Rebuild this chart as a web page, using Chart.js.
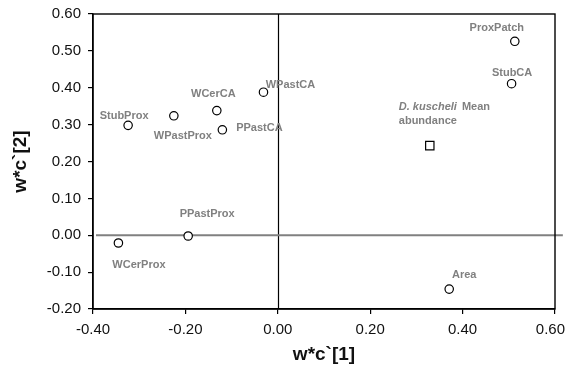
<!DOCTYPE html>
<html>
<head>
<meta charset="utf-8">
<script src="https://cdn.jsdelivr.net/npm/chart.js@4.4.1/dist/chart.umd.min.js"></script>
<style>
  html, body { margin: 0; padding: 0; background: #fff; }
  #wrap { width: 566px; height: 369px; }
</style>
</head>
<body>
<div id="wrap"><canvas id="c" width="566" height="369"></canvas></div>
<script>
// ---- data ----
const siteNames = ["StubProx", "WPastProx", "WCerCA", "PPastCA", "WPastCA", "ProxPatch", "StubCA", "WCerProx", "PPastProx", "Area"];
const siteX = [-0.324, -0.225, -0.132, -0.120, -0.031, 0.513, 0.506, -0.345, -0.194, 0.371];
const siteY = [0.298, 0.324, 0.338, 0.286, 0.388, 0.526, 0.411, -0.021, -0.002, -0.146];
const speciesX = [0.329];
const speciesY = [0.243];
const speciesItalic = "D. kuscheli";
const speciesRest = " Mean";
const speciesLine2 = "abundance";
const xTicks = [-0.40, -0.20, 0.00, 0.20, 0.40, 0.60];
const yTicks = [-0.20, -0.10, 0.00, 0.10, 0.20, 0.30, 0.40, 0.50, 0.60];
const zeroLineX = [-0.3935, 0.617];
const xTitle = "w*c`[1]";
const yTitle = "w*c`[2]";

// ---- layout of labels (pixel offsets from point) ----
const labelOffsets = [[-4, -9], [9, 20.5], [-3.5, -17], [37, -1.7], [27, -7.5], [-18, -13.5], [0.5, -11], [20.5, 21.5], [19, -22.5], [15, -14.5]];
const speciesLabelOffset = [-31, -38.5, -25];

const siteData = siteX.map((x, i) => ({ x: x, y: siteY[i] }));
const speciesData = speciesX.map((x, i) => ({ x: x, y: speciesY[i] }));
const zeroData = zeroLineX.map(x => ({ x: x, y: 0 }));

const tickFontSpec = '15px "Liberation Sans", Arial, sans-serif';
const labelFont = 'bold 11px "Liberation Sans", Arial, sans-serif';
const labelColor = '#808080';
const lastXTick = xTicks[xTicks.length - 1];

const overlay = {
  id: 'overlay',
  beforeDatasetsDraw(chart) {
    const { ctx, chartArea: a, scales: { x, y } } = chart;
    ctx.save();
    const x0 = Math.round(x.getPixelForValue(0)) + 0.5;
    ctx.strokeStyle = '#000';
    ctx.lineWidth = 1.2;
    ctx.beginPath();
    ctx.moveTo(x0, a.top);
    ctx.lineTo(x0, a.bottom);
    ctx.stroke();
    ctx.restore();
  },
  afterDatasetsDraw(chart) {
    const { ctx, chartArea: a, scales: { x, y } } = chart;
    ctx.save();
    ctx.strokeStyle = '#000';
    ctx.lineWidth = 1.4;
    ctx.strokeRect(a.left, a.top, a.right - a.left, a.bottom - a.top);
    ctx.font = labelFont;
    ctx.fillStyle = labelColor;
    ctx.textAlign = 'center';
    ctx.textBaseline = 'middle';
    siteNames.forEach((n, i) => {
      const px = x.getPixelForValue(siteX[i]);
      const py = y.getPixelForValue(siteY[i]);
      ctx.fillText(n, px + labelOffsets[i][0], py + labelOffsets[i][1]);
    });
    const sx = x.getPixelForValue(speciesX[0]);
    const sy = y.getPixelForValue(speciesY[0]);
    ctx.textAlign = 'left';
    const lx = sx + speciesLabelOffset[0];
    ctx.font = 'italic bold 11px "Liberation Sans", Arial, sans-serif';
    ctx.fillText(speciesItalic, lx, sy + speciesLabelOffset[1]);
    const w = ctx.measureText(speciesItalic).width;
    ctx.font = labelFont;
    ctx.fillText(speciesRest, lx + w + 2, sy + speciesLabelOffset[1]);
    ctx.fillText(speciesLine2, lx, sy + speciesLabelOffset[2]);
    // last x tick label, kept inside the canvas like the reference
    ctx.font = tickFontSpec;
    ctx.fillStyle = '#111';
    ctx.textAlign = 'right';
    ctx.textBaseline = 'middle';
    const lp = x.getPixelForValue(lastXTick);
    ctx.fillText(lastXTick.toFixed(2), Math.min(lp + 15, chart.width - 1), a.bottom + 21);
    ctx.restore();
  }
};

new Chart(document.getElementById('c'), {
  type: 'scatter',
  data: {
    datasets: [
      {
        type: 'line',
        data: zeroData,
        borderColor: '#808080',
        borderWidth: 2,
        pointRadius: 0,
        clip: false,
        order: 3
      },
      {
        data: siteData,
        pointStyle: 'circle',
        pointRadius: 4.2,
        pointBorderWidth: 1.2,
        pointBorderColor: '#000',
        pointBackgroundColor: '#fff',
        order: 1
      },
      {
        data: speciesData,
        pointStyle: 'rect',
        pointRadius: 5.9,
        pointBorderWidth: 1.2,
        pointBorderColor: '#000',
        pointBackgroundColor: '#fff',
        order: 1
      }
    ]
  },
  options: {
    responsive: false,
    animation: false,
    devicePixelRatio: 1,
    layout: { padding: { left: 0, right: 11, top: 14, bottom: 0 } },
    plugins: { legend: { display: false }, tooltip: { enabled: false } },
    scales: {
      x: {
        type: 'linear',
        min: -0.4, max: 0.6,
        afterBuildTicks(s) { s.ticks = xTicks.map(v => ({ value: v })); },
        afterFit(s) { s.height = 60; s.paddingLeft = 0; s.paddingRight = 0; },
        grid: { drawOnChartArea: false, drawTicks: true, tickLength: 5, color: '#000', lineWidth: 1.2 },
        border: { display: true, color: '#000', width: 1.4 },
        ticks: {
          padding: 7,
          color: '#111',
          font: { family: '"Liberation Sans", Arial, sans-serif', size: 15 },
          callback: v => (v === lastXTick ? '' : v.toFixed(2))
        },
        title: {
          display: true, text: xTitle, color: '#111',
          font: { family: '"Liberation Sans", Arial, sans-serif', size: 19, weight: 'bold' },
          padding: { top: 0, bottom: 2.5 }
        }
      },
      y: {
        type: 'linear',
        min: -0.2, max: 0.6,
        afterBuildTicks(s) { s.ticks = yTicks.map(v => ({ value: v })); },
        afterFit(s) { s.width = 93; s.paddingTop = 0; s.paddingBottom = 0; },
        grid: { drawOnChartArea: false, drawTicks: true, tickLength: 5, color: '#000', lineWidth: 1.2 },
        border: { display: true, color: '#000', width: 1.4 },
        ticks: {
          padding: 7,
          color: '#111',
          font: { family: '"Liberation Sans", Arial, sans-serif', size: 15 },
          callback: v => v.toFixed(2)
        },
        title: {
          display: true, text: yTitle, color: '#111',
          font: { family: '"Liberation Sans", Arial, sans-serif', size: 19, weight: 'bold' },
          padding: { top: 9, bottom: 0 }
        }
      }
    }
  },
  plugins: [overlay]
});
</script>
</body>
</html>
